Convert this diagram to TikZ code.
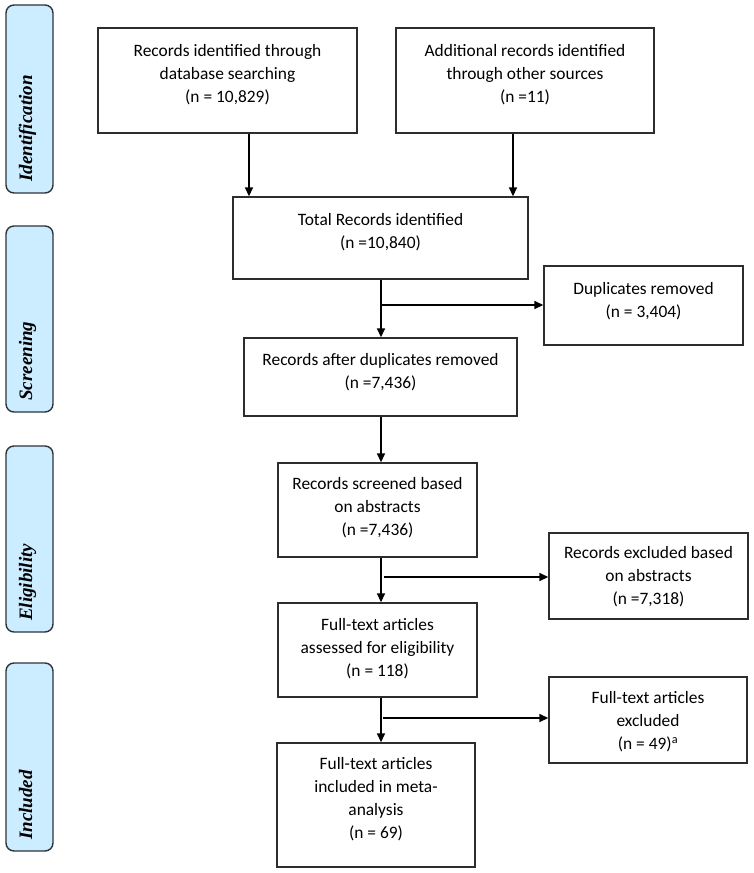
\documentclass[tikz,border=0pt]{standalone}
\usepackage{fontspec}
\setmainfont{Carlito}
\newfontfamily\lblfont{Liberation Serif}
\usetikzlibrary{arrows.meta,calc}
\definecolor{lblfill}{RGB}{204,236,255}
\definecolor{lbldraw}{RGB}{45,52,60}
\definecolor{boxdraw}{RGB}{45,45,45}
\begin{document}
\begin{tikzpicture}[x=1pt,y=-1pt,
  box/.style={draw=boxdraw, line width=1.4pt, fill=white, inner sep=0pt},
  txt/.style={align=center, font=\fontsize{17.4}{23}\selectfont, inner sep=0pt},
  phase/.style={draw=lbldraw, fill=lblfill, line width=1.4pt, rounded corners=8pt, inner sep=0pt},
  phtxt/.style={rotate=90, anchor=base west, inner sep=0pt, font=\lblfont\bfseries\itshape\fontsize{19}{19}\selectfont},
  arr/.style={line width=1.5pt, -{Triangle[length=9pt,width=8pt]}}
]
\useasboundingbox[fill=white] (0,0) rectangle (754,873);

% phase labels
\node[phase, minimum width=47pt, minimum height=188pt] (pid) at (29.5,99) {};
\node[phtxt] (pidt) at (32,182) {Identification};
\node[phase, minimum width=47pt, minimum height=186pt] (psc) at (29.5,319) {};
\node[phtxt] (psct) at (32,401) {Screening};
\node[phase, minimum width=47pt, minimum height=186pt] (pel) at (29.5,539) {};
\node[phtxt] (pelt) at (32,621) {Eligibility};
\node[phase, minimum width=47pt, minimum height=188pt] (pin) at (29.5,757) {};
\node[phtxt] (pint) at (32,840) {Included};

% boxes
\node[box, minimum width=259pt, minimum height=105pt] (b1) at (227.5,80.5) {};
\node[txt] (b1t) at (227.5,75) {Records identified through\\database searching\\(n = 10,829)};
\node[box, minimum width=258pt, minimum height=105pt] (b2) at (525,80.5) {};
\node[txt] (b2t) at (525,75) {Additional records identified\\through other sources\\(n =11)};
\node[box, minimum width=295pt, minimum height=82pt] (tot) at (380.5,238) {};
\node[txt] (tott) at (380.5,232.5) {Total Records identified\\(n =10,840)};
\node[box, minimum width=199pt, minimum height=79pt] (dup) at (643.5,305.5) {};
\node[txt] (dupt) at (643.5,301) {Duplicates removed\\(n = 3,404)};
\node[box, minimum width=273pt, minimum height=78pt] (dedup) at (380.5,377) {};
\node[txt] (dedupt) at (380.5,372.5) {Records after duplicates removed\\(n =7,436)};
\node[box, minimum width=199pt, minimum height=94pt] (scr) at (377.5,510) {};
\node[txt] (scrt) at (377.5,508) {Records screened based\\on abstracts\\(n =7,436)};
\node[box, minimum width=199pt, minimum height=86pt] (exab) at (648.5,576) {};
\node[txt] (exabt) at (648.5,577) {Records excluded based\\on abstracts\\(n =7,318)};
\node[box, minimum width=199pt, minimum height=94pt] (ft) at (377.5,650) {};
\node[txt] (ftt) at (377.5,649) {Full-text articles\\assessed for eligibility\\(n = 118)};
\node[box, minimum width=198pt, minimum height=86pt] (ftex) at (648,720) {};
\node[txt] (ftext) at (648,722) {Full-text articles\\excluded\\(n = 49)\textsuperscript{a}};
\node[box, minimum width=198pt, minimum height=124pt] (inc) at (376,805) {};
\node[txt] (inct) at (376,799.5) {Full-text articles\\included in meta-\\analysis\\(n = 69)};

% connectors
\coordinate (ax1) at (249,0);
\coordinate (ax2) at (513,0);
\coordinate (sp) at (381,0);
\coordinate (br1) at (381,305);
\coordinate (br2) at (384,577);
\coordinate (br3) at (383,718);
\draw[arr] (b1.south -| ax1) -- (tot.north -| ax1);
\draw[arr] (b2.south -| ax2) -- (tot.north -| ax2);
\draw[arr] (tot.south -| sp) -- (dedup.north -| sp);
\draw[arr] (br1) -- (br1 -| dup.west);
\draw[arr] (dedup.south -| sp) -- (scr.north -| sp);
\draw[arr] (scr.south -| sp) -- (ft.north -| sp);
\draw[arr] (br2) -- (br2 -| exab.west);
\draw[arr] (ft.south -| sp) -- (inc.north -| sp);
\draw[arr] (br3) -- (br3 -| ftex.west);
\end{tikzpicture}
\end{document}
